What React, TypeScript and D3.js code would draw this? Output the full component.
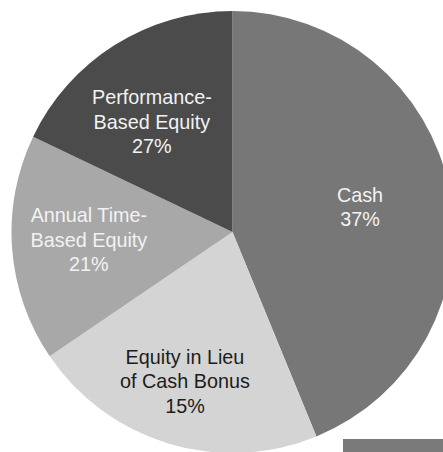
import React from "react";
import * as d3 from "d3";

// Slice order clockwise from 12 o'clock
const categories = ["Cash", "Equity in Lieu of Cash Bonus", "Annual Time-Based Equity", "Performance-Based Equity"];
// Slice sizes as drawn in the picture (share of the circle, %)
const sliceValues = [43.8, 21.7, 16.6, 17.9];
// Printed percentage labels
const percentLabels = ["37%", "15%", "21%", "27%"];
// Label text lines
const labelLines = [
  ["Cash"],
  ["Equity in Lieu", "of Cash Bonus"],
  ["Annual Time-", "Based Equity"],
  ["Performance-", "Based Equity"],
];

// Styles / layout (kept separate from the data)
const sliceColors = ["#777777", "#d4d4d4", "#a8a8a8", "#4b4b4b"];
const textColors = ["#f2f2f2", "#1c1c1c", "#f2f2f2", "#f2f2f2"];
const labelRadius = [130, 158, 143, 140];
const labelNudge: [number, number][] = [[0, 0], [-2, -2], [-1, -3], [-6, 8]];

const W = 443;
const H = 452;
const CX = 232.5;
const CY = 232;
const R = 221;
const FS = 19.8;
const LH = 24.5;

export default function App() {
  const pie = d3.pie<number>().sort(null).startAngle(0).endAngle(2 * Math.PI);
  const arcs = pie(sliceValues);
  const arcGen = d3.arc<d3.PieArcDatum<number>>().innerRadius(0).outerRadius(R);

  return (
    <svg
      width={W}
      height={H}
      viewBox={`0 0 ${W} ${H}`}
      style={{ position: "absolute", left: 0, top: 0, background: "#ffffff" }}
      fontFamily="'Liberation Sans', Arial, Helvetica, sans-serif"
    >
      <rect x={0} y={0} width={W} height={H} fill="#ffffff" />
      <g transform={`translate(${CX},${CY})`}>
        {arcs.map((a, i) => (
          <path key={categories[i]} d={arcGen(a) || ""} fill={sliceColors[i]} />
        ))}
      </g>
      {arcs.map((a, i) => {
        const mid = (a.startAngle + a.endAngle) / 2;
        const lx = CX + labelRadius[i] * Math.sin(mid) + labelNudge[i][0];
        const ly = CY - labelRadius[i] * Math.cos(mid) + labelNudge[i][1];
        const lines = [...labelLines[i], percentLabels[i]];
        const capH = 0.716 * FS;
        const blockH = capH + (lines.length - 1) * LH;
        const firstBase = ly - blockH / 2 + capH;
        return (
          <text key={"l" + i} textAnchor="middle" fontSize={FS} fill={textColors[i]}>
            {lines.map((t, j) => (
              <tspan key={j} x={lx} y={firstBase + j * LH}>
                {t}
              </tspan>
            ))}
          </text>
        );
      })}
      <rect x={343} y={439} width={W - 343} height={H - 439} fill="#7a7a7a" />
    </svg>
  );
}
